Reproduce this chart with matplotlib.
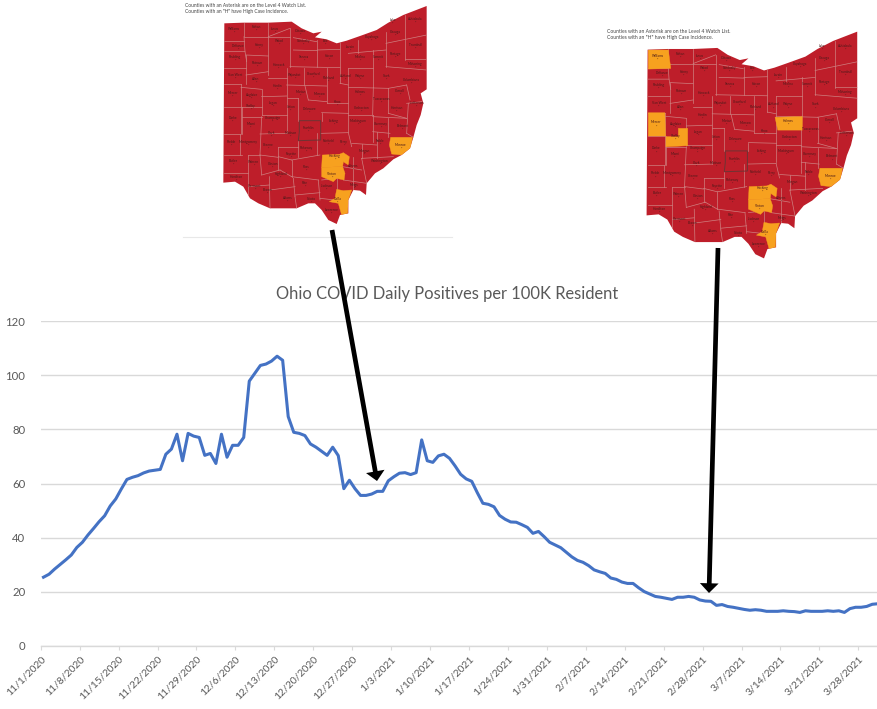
import matplotlib
matplotlib.use("Agg")
import matplotlib.pyplot as plt
from matplotlib.patches import Polygon

# daily positives per 100K, 11/1/2020 onward
positives = [25.4,26.5,28.4,30.1,31.8,33.6,36.4,38.3,41,43.4,45.9,48.1,51.7,54.3,58,61.5,62.3,62.9,63.9,64.6,
             64.9,65.2,70.8,72.7,78.2,68.4,78.5,77.5,77,70.4,71.1,67.4,78.2,69.7,74.1,74.1,77,97.8,100.7,103.6,
             104.1,105.2,107,105.5,84.7,78.9,78.5,77.7,74.6,73.4,71.9,70.4,73.4,70.3,58.1,61.2,58.1,55.6,55.6,56.1,
             57.1,57.1,61,62.5,63.8,64,63.3,64,76.1,68.4,67.8,70.2,70.8,69.3,66.5,63.4,61.7,60.8,56.6,52.7,
             52.3,51.4,48.2,46.8,45.8,45.7,44.8,43.8,41.6,42.3,40.4,38.3,37.3,36.3,34.6,32.9,31.6,30.9,29.7,28.1,
             27.4,26.8,25.1,24.6,23.6,23.1,23.1,21.5,20.1,19.2,18.3,18,17.6,17.2,18,18,18.3,18,17,16.6,
             16.5,15,15.3,14.6,14.3,13.9,13.5,13.2,13.4,13.2,12.8,12.8,12.8,13,12.8,12.7,12.4,13,12.8,12.8,
             12.8,13,12.8,13,12.4,13.8,14.3,14.3,14.6,15.4,15.6]
date_labels = ["11/1/2020","11/8/2020","11/15/2020","11/22/2020","11/29/2020","12/6/2020","12/13/2020",
               "12/20/2020","12/27/2020","1/3/2021","1/10/2021","1/17/2021","1/24/2021","1/31/2021","2/7/2021",
               "2/14/2021","2/21/2021","2/28/2021","3/7/2021","3/14/2021","3/21/2021","3/28/2021"]
y_ticks = [0, 20, 40, 60, 80, 100, 120]

# map geometry, in the pixel units of the first map
ohio = [(133,70),(190,68),(265,68),(335,65),(365,85),(400,100),(425,95),(405,112),(440,118),(470,130),(500,122),
        (540,108),(590,90),(625,68),(670,45),(740,18),(740,268),(722,280),(730,310),(722,345),(710,375),(700,412),
        (690,445),(665,465),(640,478),(610,505),(585,520),(560,550),(558,585),(540,572),(520,570),(505,600),
        (505,640),(480,645),(470,672),(445,660),(425,630),(405,610),(385,610),(350,625),(310,625),(270,625),
        (235,610),(210,595),(190,560),(165,545),(130,548)]
borders = [
    [(133,122),(192,122)], [(192,68),(192,110),(265,110)], [(265,68),(265,225)], [(133,155),(195,155),(200,185)],
    [(133,205),(198,205)], [(133,252),(183,252)], [(133,320),(185,320)], [(133,402),(180,402)], [(133,465),(185,465)],
    [(133,518),(205,518)], [(183,252),(183,402)], [(180,402),(180,465)], [(205,465),(205,595)],
    [(192,110),(195,155)], [(198,165),(265,168)], [(198,165),(198,252)], [(198,225),(265,215)],
    [(183,262),(245,268)], [(245,268),(245,345)], [(186,321),(245,321)], [(186,321),(186,402)],
    [(186,350),(245,350)], [(245,290),(320,288)], [(245,345),(320,345)], [(320,205),(320,400)],
    [(265,110),(330,85)], [(330,85),(330,200)], [(265,235),(320,235)], [(265,110),(330,110)],
    [(340,113),(410,125)], [(340,150),(412,152)], [(412,120),(412,200)], [(330,200),(480,203)], [(372,205),(372,255)],
    [(320,255),(440,258)], [(375,258),(385,300)], [(385,300),(440,305)], [(440,205),(440,310)], [(320,295),(355,295)],
    [(355,295),(355,362)], [(412,150),(480,148)], [(480,122),(480,250)], [(480,250),(505,255)], [(505,205),(505,340)],
    [(505,205),(580,205)], [(535,120),(535,160)], [(505,160),(618,150)], [(580,150),(580,260)], [(618,95),(618,200)],
    [(618,200),(740,210)], [(675,45),(675,180)], [(618,130),(740,105)], [(675,178),(740,178)], [(505,262),(625,265)],
    [(580,262),(578,345)], [(625,265),(625,340)], [(625,265),(680,255)], [(680,255),(690,300)], [(625,340),(680,355)],
    [(680,310),(725,305)], [(685,310),(680,400)], [(440,310),(505,310)], [(425,338),(505,340)], [(425,338),(425,362)],
    [(505,340),(505,395)], [(505,345),(578,345)], [(578,345),(578,425)], [(578,350),(680,355)], [(578,395),(630,400)],
    [(625,355),(625,412)], [(680,400),(700,412)], [(422,400),(505,398)], [(505,398),(515,440)], [(412,400),(412,465)],
    [(515,430),(590,435)], [(590,395),(590,475)], [(545,475),(640,470)], [(545,432),(545,475)], [(520,470),(520,570)],
    [(545,475),(560,550)], [(488,500),(545,510)], [(490,540),(560,550)], [(295,440),(355,440)], [(355,422),(355,470)],
    [(240,402),(320,400)], [(245,350),(240,465)], [(240,465),(295,472)], [(295,440),(295,510)], [(205,465),(240,465)],
    [(240,465),(245,525)], [(245,525),(300,510)], [(300,510),(335,530)], [(335,480),(335,530)], [(335,480),(420,465)],
    [(295,470),(335,480)], [(335,530),(415,540)], [(415,540),(420,600)], [(340,535),(345,590)], [(345,590),(350,625)],
    [(345,585),(420,578)], [(270,570),(345,560)], [(268,530),(270,625)], [(205,560),(268,555)], [(420,595),(465,600)],
    [(425,540),(470,535)], [(470,535),(470,600)],
]
franklin = [(358,362),(422,362),(422,420),(355,422),(358,395)]

hocking = [(427,465),(478,463),(490,458),(508,470),(505,495),(490,485),(488,500),(425,502)]
vinton = [(425,502),(488,500),(495,520),(492,540),(470,535),(460,545),(425,530)]
gallia = [(470,568),(490,572),(515,570),(505,600),(503,640),(485,645),(475,610),(448,605),(465,595)]
monroe = [(632,412),(697,412),(692,445),(665,465),(635,462),(628,435)]
williams = [(135,71),(193,71),(200,124),(135,126)]
mercer = [(135,252),(183,252),(185,319),(135,319)]
shelby = [(222,297),(249,297),(249,347),(186,350),(186,321),(222,321)]
holmes = [(502,265),(581,263),(581,302),(510,302)]

county_names = ["Williams","Fulton","Lucas","Ottawa","Wood","Sandusky","Erie","Lorain","Cuyahoga","Lake","Geauga",
                "Ashtabula","Trumbull","Defiance","Henry","Paulding","Putnam","Hancock","Seneca","Huron","Medina",
                "Summit","Portage","Mahoning","Van Wert","Allen","Wyandot","Crawford","Richland","Ashland","Wayne",
                "Stark","Columbiana","Mercer","Auglaize","Hardin","Marion","Morrow","Knox","Holmes","Tuscarawas",
                "Carroll","Harrison","Jefferson","Shelby","Logan","Union","Delaware","Licking","Coshocton","Darke",
                "Miami","Champaign","Clark","Madison","Franklin","Muskingum","Guernsey","Belmont","Preble",
                "Montgomery","Greene","Fayette","Pickaway","Fairfield","Perry","Morgan","Noble","Monroe","Butler",
                "Warren","Clinton","Highland","Ross","Hocking","Athens","Washington","Vinton","Hamilton","Clermont",
                "Brown","Adams","Pike","Scioto","Jackson","Gallia","Meigs","Lawrence"]
county_x = [163,228,285,360,297,370,437,512,575,638,645,705,705,175,238,165,232,296,372,447,540,595,645,705,165,228,
            345,400,445,497,540,620,695,158,215,292,362,418,472,540,603,660,650,710,213,280,332,388,462,545,158,212,
            278,275,332,385,535,603,668,155,205,265,335,378,445,492,553,600,663,160,222,278,302,378,465,520,600,457,
            168,225,262,322,375,395,440,473,522,455]
county_y = [88,82,88,93,122,122,122,142,110,60,95,58,135,138,135,172,190,195,170,168,170,170,163,192,225,236,225,222,
            235,228,228,228,240,280,285,258,275,282,305,275,298,272,325,310,318,308,322,328,362,323,355,372,355,398,
            398,385,362,372,378,427,425,435,462,445,423,425,452,423,435,482,487,492,523,500,468,498,483,522,530,558,
            570,593,548,598,557,597,555,630]

map_notes = ['Counties with an Asterisk are on the Level 4 Watch List.', 'Counties with an "H" have High Case Incidence.']
chart_title = "Ohio COVID Daily Positives per 100K Resident"

W, H = 878, 709
plt.rcParams["font.family"] = ["Lato", "DejaVu Sans"]
fig = plt.figure(figsize=(W / 100, H / 100), dpi=100, facecolor="white")


def px_axes(left, top, right, bottom):
    return fig.add_axes([left / W, 1 - bottom / H, (right - left) / W, (bottom - top) / H])


# main chart
ax = px_axes(40.7, 321, 878, 646)
ax.plot(range(len(positives)), positives, color="#4472C4", lw=2.2, solid_joinstyle="round", zorder=3, clip_on=False)
ax.set_xlim(-0.5, 150.04)
ax.set_ylim(0, 120)
ax.set_yticks(y_ticks)
ax.set_xticks([i * 7 - 0.5 for i in range(len(date_labels))])
ax.set_xticklabels(date_labels, rotation=45, ha="right", rotation_mode="anchor")
ax.tick_params(axis="x", length=3, width=0.8, color="#d9d9d9", labelcolor="#595959", labelsize=7.5, pad=3)
ax.tick_params(axis="y", length=0, labelcolor="#595959", labelsize=8.2, pad=11)
ax.grid(axis="y", color="#d9d9d9", lw=1)
ax.set_axisbelow(True)
for side in ["top", "right", "left"]:
    ax.spines[side].set_visible(False)
ax.spines["bottom"].set_color("#d9d9d9")
ax.spines["bottom"].set_linewidth(1)


def draw_map(map_ax, orange, note_x, note_size):
    map_ax.set_xlim(0, 800)
    map_ax.set_ylim(720, 0)
    map_ax.axis("off")
    outline = Polygon(ohio, closed=True, fc="#BE1E2A", ec="none", zorder=1)
    map_ax.add_patch(outline)
    for line in borders:
        xs = [pt[0] for pt in line]
        ys = [pt[1] for pt in line]
        l, = map_ax.plot(xs, ys, color="#CF8080", lw=0.5, zorder=2)
        l.set_clip_path(outline)
    for shape in orange:
        p = Polygon(shape, closed=True, fc="#F7A11F", ec="#F7A11F", lw=0.3, zorder=3)
        map_ax.add_patch(p)
        p.set_clip_path(outline)
    f = Polygon(franklin, closed=True, fc="none", ec="#6E3434", lw=0.7, zorder=4)
    map_ax.add_patch(f)
    for name, x, y in zip(county_names, county_x, county_y):
        map_ax.text(x, y, name, fontsize=2.3, ha="center", va="center", color="#4a1a1a", zorder=5)
        map_ax.text(x, y + 11, "*", fontsize=2.3, ha="center", va="center", color="#4a1a1a", zorder=5)
    for note, y in zip(map_notes, (17, 36)):
        map_ax.text(note_x, y, note, fontsize=note_size, ha="left", va="center", color="#444444", zorder=5)


# left map: Ohio, same pixel units as the geometry
map1 = px_axes(180, 0, 180 + 800 / 3, 240)
draw_map(map1, [hocking, vinton, gallia, monroe], 15, 3.5)

# right map: same shape, a bit larger, more orange counties
map2 = px_axes(601.7, 25.4, 601.7 + 800 * 0.3453, 25.4 + 720 * 0.3467)
draw_map(map2, [hocking, vinton, gallia, monroe, williams, mercer, shelby, holmes], 16, 3.6)

# overlay in pixel coordinates for title, rule and arrows
top = fig.add_axes([0, 0, 1, 1], facecolor="none")
top.set_xlim(0, W)
top.set_ylim(H, 0)
top.axis("off")
top.plot([183, 452], [236.5, 236.5], color="#e8e8e8", lw=0.8)
top.text(447.5, 294, chart_title, fontsize=11.9, ha="center", va="center", color="#595959")
arrow_style = dict(facecolor="black", edgecolor="black", width=3.4, headwidth=13.5, headlength=7, shrink=0, lw=0)
top.annotate("", xy=(377, 481), xytext=(332, 230), xycoords="data", arrowprops=arrow_style)
top.annotate("", xy=(709, 593), xytext=(718, 248), xycoords="data", arrowprops=arrow_style)

fig.savefig("out.png", dpi=100)
